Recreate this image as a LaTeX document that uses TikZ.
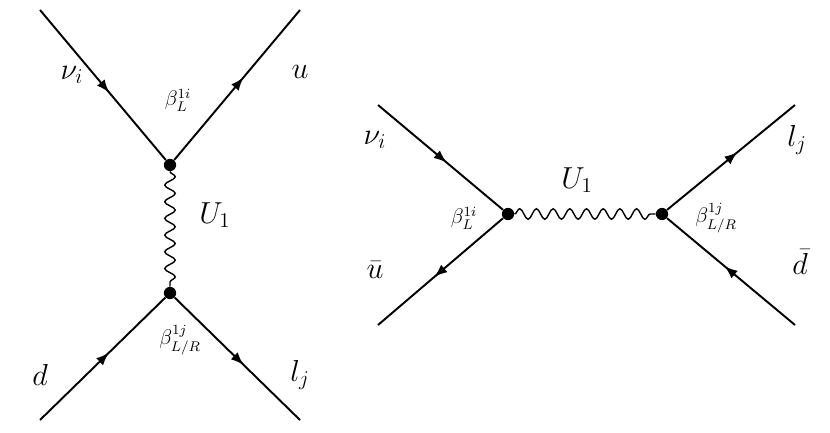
\documentclass[tikz,border=0pt]{standalone}
\usepackage{amsmath}
\usetikzlibrary{decorations.pathmorphing,decorations.markings,arrows}
\tikzset{
  fermion/.style={line width=1.1pt, postaction={decorate},
    decoration={markings, mark=at position 0.55 with {\arrow[scale=1.2]{latex}}}},
  boson/.style={line width=0.8pt, decorate,
    decoration={snake, amplitude=3pt, segment length=9.5pt}},
  vertex/.style={circle, fill=black, inner sep=0pt, minimum size=7pt},
  particle/.style={font=\LARGE, inner sep=1pt},
  coupling/.style={font=\large, inner sep=1pt}
}
\begin{document}
\begin{tikzpicture}[x=0.02cm, y=-0.02cm]
\useasboundingbox (0,0) rectangle (830,432);
% t-channel
\coordinate (a1) at (40,10);
\coordinate (a2) at (300,10);
\coordinate (a3) at (40,420);
\coordinate (a4) at (300,420);
\node [vertex] (v1) at (170,165) {};
\node [vertex] (v2) at (170,293) {};
\draw [fermion] (a1) -- (v1);
\draw [fermion] (v1) -- (a2);
\draw [fermion] (a3) -- (v2);
\draw [fermion] (v2) -- (a4);
\draw [boson] (v1) -- (v2);
\node [particle] (nu1) at (72,75) {$\nu_i$};
\node [particle] (u1) at (300,72) {$u$};
\node [particle] (d1) at (40,375) {$d$};
\node [particle] (l1) at (300,375) {$l_j$};
\node [particle] (U1a) at (215,215) {$U_1$};
\node [coupling] (b1) at (178,100) {$\beta_L^{1i}$};
\node [coupling] (b2) at (180,340) {$\beta_{L/R}^{1j}$};
% s-channel
\coordinate (c1) at (378,105);
\coordinate (c2) at (378,325);
\coordinate (c3) at (795,105);
\coordinate (c4) at (795,325);
\node [vertex] (w1) at (508,214) {};
\node [vertex] (w2) at (662,214) {};
\draw [fermion] (c1) -- (w1);
\draw [fermion] (w1) -- (c2);
\draw [fermion] (w2) -- (c3);
\draw [fermion] (c4) -- (w2);
\draw [boson] (w1) -- (w2);
\node [particle] (nu2) at (375,140) {$\nu_i$};
\node [particle] (ub) at (375,270) {$\bar u$};
\node [particle] (l2) at (797,140) {$l_j$};
\node [particle] (db) at (800,262) {$\bar d$};
\node [particle] (U1b) at (577,180) {$U_1$};
\node [coupling] (b3) at (464,218) {$\beta_L^{1i}$};
\node [coupling] (b4) at (716,218) {$\beta_{L/R}^{1j}$};
\end{tikzpicture}
\end{document}
